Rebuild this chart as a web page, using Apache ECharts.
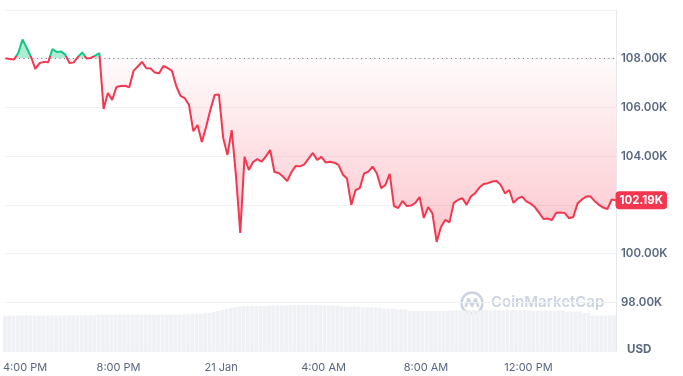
<!DOCTYPE html>
<html><head><meta charset="utf-8">
<script src="https://cdn.jsdelivr.net/npm/echarts@6/dist/echarts.min.js"></script>
<style>html,body{margin:0;padding:0;background:#fff}#c{width:683px;height:376px}</style>
</head><body><div id="c"></div>
<script>
// ---- data ----
const startTime = new Date(2025, 0, 20, 15, 35).getTime();
const stepMinutes = 10;
const monthNames = ['Jan','Feb','Mar','Apr','May','Jun','Jul','Aug','Sep','Oct','Nov','Dec'];
// BTC price in thousands USD, one point every 10 minutes
const prices = [
 108.02, 107.99, 107.97, 108.23, 108.79, 108.44, 108.07, 107.58, 107.82, 107.87,
 107.85, 108.40, 108.28, 108.30, 108.17, 107.82, 107.85, 108.08, 108.26, 108.01,
 108.03, 108.13, 108.23, 105.94, 106.59, 106.31, 106.84, 106.88, 106.89, 106.83,
 107.50, 107.68, 107.87, 107.61, 107.60, 107.43, 107.40, 107.70, 107.62,
 107.50, 106.88, 106.47, 106.38, 106.10, 105.03, 105.28, 104.58, 105.20, 105.90,
 106.51, 106.53, 104.75, 104.05, 105.07, 103.19, 100.85, 103.97, 103.43, 103.76,
 103.88, 103.77, 103.99, 104.25, 103.35, 103.31, 103.16, 102.98, 103.35, 103.60,
 103.58, 103.66, 103.90, 104.13, 103.84, 103.97, 103.74, 103.77, 103.73, 103.64,
 103.25, 103.08, 102.00, 102.61, 102.69, 103.29, 103.36, 103.57, 103.29, 102.68,
 102.82, 103.27, 101.95, 101.87, 102.16, 101.95, 101.97, 102.08, 102.32,
 101.46, 101.91, 101.65, 100.48, 101.09, 101.38, 101.28, 102.08, 102.20, 102.28,
 102.00, 102.34, 102.48, 102.71, 102.86, 102.89, 102.96, 102.98, 102.82, 102.47,
 102.61, 102.08, 102.26, 102.34, 102.14, 102.05, 101.91, 101.67, 101.42, 101.44,
 101.38, 101.68, 101.69, 101.66, 101.45, 101.50, 102.06, 102.22, 102.34, 102.35,
 102.15, 102.00, 101.89, 101.83, 102.22, 102.19
];
// 24h volume, billions USD
const volumes = [
 54.6, 54.6, 54.5, 54.6, 54.6, 54.7, 54.6, 54.6, 54.5, 54.6,
 54.6, 54.9, 54.9, 55.0, 54.9, 54.9, 54.8, 54.9, 54.9, 55.0, 54.9, 54.9,
 56.2, 56.2, 56.1, 56.2, 56.2, 56.3, 56.2, 56.2, 56.1, 56.2, 56.2,
 56.3, 56.2, 56.2, 56.1, 56.2, 56.2, 56.3, 56.2, 56.2, 56.2, 56.4,
 57.3, 57.3, 57.4, 58.5, 58.6, 60.0, 61.5, 63.0, 64.5, 66.0, 67.5,
 68.2, 68.3, 69.0, 69.0, 69.1, 69.0, 69.2, 69.8, 69.8, 69.9, 69.8, 70.0,
 70.5, 70.5, 70.6, 70.5, 70.5, 70.4, 70.5, 70.5, 69.8, 69.8, 69.7, 69.6,
 68.2, 68.2, 68.1, 68.2, 68.0, 66.8, 66.8, 66.7, 66.8, 66.6, 65.2, 65.2, 65.1,
 63.8, 63.8, 63.7, 61.5, 61.5, 61.4, 61.5, 61.5, 61.6, 61.5, 61.5, 61.4, 61.5,
 62.2, 62.2, 62.3, 62.2, 63.0, 63.0, 63.1, 63.0, 63.0, 62.9, 63.0, 63.0, 63.1,
 63.0, 63.0, 62.9, 63.0, 63.0, 62.2, 62.2, 62.3, 62.2, 62.2, 62.1, 62.2, 62.2, 62.2,
 60.8, 60.8, 60.7, 60.8, 58.5, 58.4, 54.8, 54.8, 54.7, 54.8, 54.8, 54.8
];
const yAxisMin = 96, yAxisMax = 110, yAxisInterval = 2;
const volumeAxisMax = 93;
const refPrice = prices[0];

// ---- build ----
const times = prices.map((_, i) => startTime + i * stepMinutes * 60000);
const priceData = times.map((t, i) => [t, prices[i]]);
const volData = times.map((t, i) => [t, volumes[i]]);
const last = prices.length - 1;
const maxP = Math.max(...prices), minP = Math.min(...prices);
const f = (maxP - refPrice) / (maxP - minP);
const GREEN = '#16c784', RED = '#f4364f', GRAY = '#58667e', GRID = '#eff2f5';

function fmtTime(v) {
  const d = new Date(v);
  const h = d.getHours();
  if (h === 0 && d.getMinutes() === 0) return d.getDate() + ' ' + monthNames[d.getMonth()];
  const h12 = h % 12 === 0 ? 12 : h % 12;
  const s = h12 + ':' + String(d.getMinutes()).padStart(2, '0') + ' ' + (h < 12 ? 'AM' : 'PM');
  // first label would overflow the left edge: pad it inward
  return v - times[0] < 3600000 ? '{first|' + s + '}' : s;
}

const lineColor = new echarts.graphic.LinearGradient(0, 0, 0, 1, [
  {offset: 0, color: GREEN}, {offset: f, color: GREEN},
  {offset: f, color: RED}, {offset: 1, color: RED}
]);
const areaColor = new echarts.graphic.LinearGradient(0, 0, 0, 1, [
  {offset: 0, color: 'rgba(22,199,132,0.35)'},
  {offset: f, color: 'rgba(22,199,132,0.35)'},
  {offset: f, color: 'rgba(244,54,79,0.02)'},
  {offset: 1, color: 'rgba(244,54,79,0.28)'}
]);

const chart = echarts.init(document.getElementById('c'), null, {renderer: 'canvas'});
chart.setOption({
  animation: false,
  backgroundColor: '#fff',
  textStyle: {fontFamily: 'Inter'},
  grid: [
    {left: 3, right: 67, top: 10, bottom: 25},
    {left: 3, right: 67, top: 290, bottom: 24}
  ],
  xAxis: [
    {type: 'time', gridIndex: 0, min: times[0], max: times[last], splitNumber: 6,
     axisLine: {show: false}, axisTick: {show: false}, splitLine: {show: false},
     axisLabel: {color: GRAY, fontSize: 11, fontFamily: 'Inter', margin: 11, formatter: fmtTime,
                 rich: {first: {color: GRAY, fontSize: 11, fontFamily: 'Inter', padding: [0, 0, 0, 18]}}}},
    {type: 'time', gridIndex: 1, min: times[0], max: times[last], show: false}
  ],
  yAxis: [
    {type: 'value', gridIndex: 0, position: 'right', min: yAxisMin, max: yAxisMax, interval: yAxisInterval,
     axisLine: {show: true, lineStyle: {color: '#e6e9ee'}}, axisTick: {show: false},
     splitLine: {lineStyle: {color: GRID}},
     axisLabel: {showMinLabel: false, showMaxLabel: false, color: GRAY, fontSize: 11.5, fontWeight: 600,
                 fontFamily: 'Inter', margin: 5, formatter: v => v.toFixed(2) + 'K'}},
    {type: 'value', gridIndex: 1, min: 0, max: volumeAxisMax, show: false}
  ],
  series: [
    {
      type: 'line', xAxisIndex: 0, yAxisIndex: 0, data: priceData, showSymbol: false, z: 5,
      itemStyle: {color: RED},
      lineStyle: {width: 2, color: lineColor},
      areaStyle: {origin: refPrice, opacity: 1, color: areaColor},
      markLine: {
        silent: true, symbol: ['none', 'none'], label: {show: false},
        lineStyle: {color: '#6f7a8e', type: [1, 3.5], width: 1},
        data: [{yAxis: refPrice}]
      },
      markPoint: {
        symbol: 'circle', symbolSize: 1, itemStyle: {color: 'rgba(0,0,0,0)'},
        data: [{coord: [times[last], prices[last]], value: prices[last]}],
        label: {show: true, position: 'right', distance: -1, formatter: p => p.value.toFixed(2) + 'K',
                backgroundColor: RED, color: '#fff', fontWeight: 700, fontSize: 11.5, fontFamily: 'Inter',
                lineHeight: 12, padding: [3, 4, 3, 4], borderRadius: 4}
      }
    },
    {
      type: 'bar', xAxisIndex: 1, yAxisIndex: 1, data: volData, barWidth: 3.8, z: 1,
      itemStyle: {color: '#eff1f5'}, silent: true
    }
  ],
  graphic: [
    {type: 'text', left: 627, top: 344, z: 10, style: {text: 'USD', fill: GRAY, font: '700 11.5px Inter'}},
    {type: 'group', left: 459, top: 290, z: 10, children: [
      {type: 'circle', shape: {cx: 12, cy: 12, r: 10.5}, style: {fill: 'none', stroke: '#cdd4e1', lineWidth: 2.5}},
      {type: 'polyline', shape: {points: [[5.5, 16], [8.5, 8], [12, 15], [15.5, 8], [18.5, 16]]},
       style: {stroke: '#cdd4e1', fill: 'none', lineWidth: 2.5, lineJoin: 'round'}},
      {type: 'text', x: 31, y: 3.5, style: {text: 'CoinMarketCap', fill: '#cdd4e1', font: '600 15px Inter'}}
    ]}
  ]
});
</script></body></html>
